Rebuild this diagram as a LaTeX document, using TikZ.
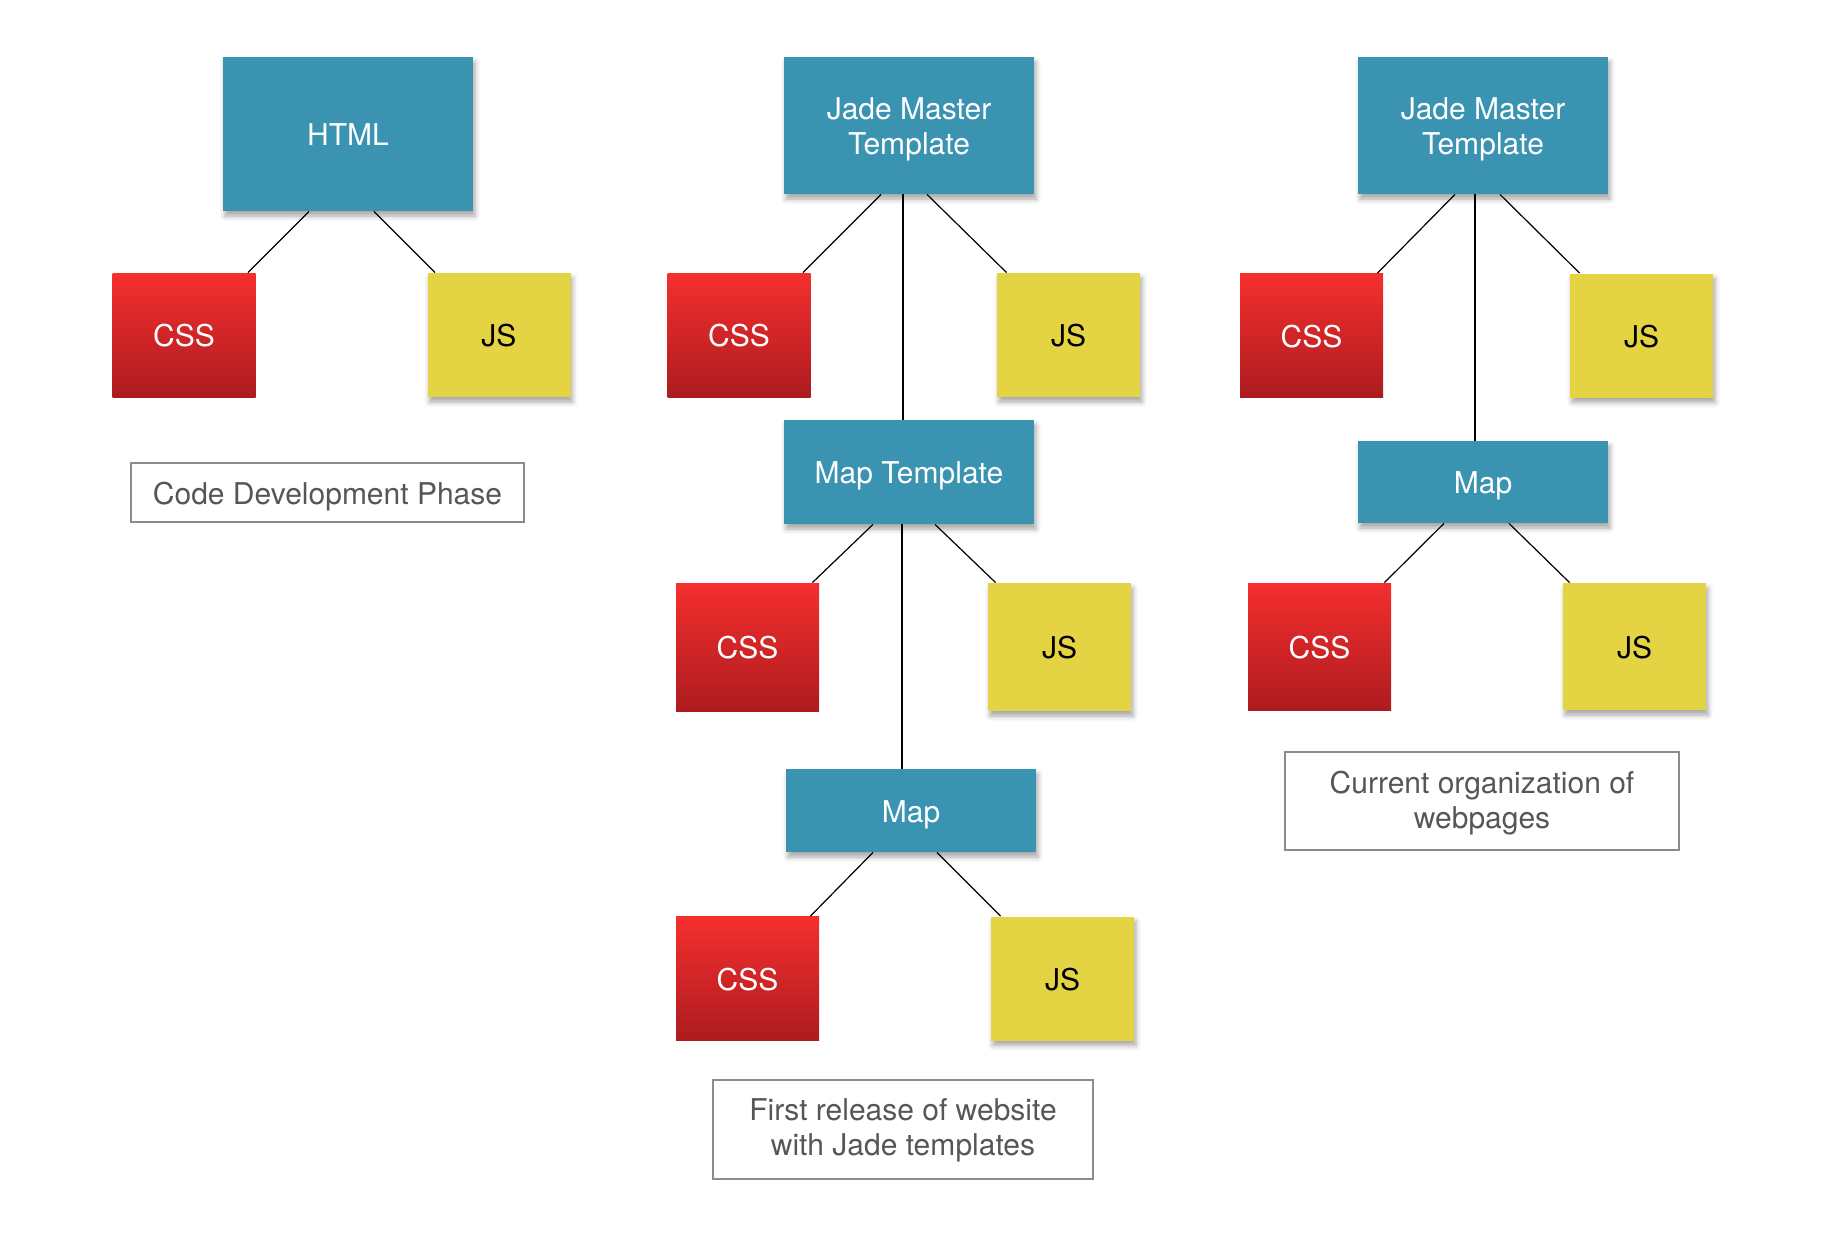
\documentclass[tikz,border=0pt]{standalone}
\usepackage{fontspec}
\setmainfont{TeX Gyre Heros}
\usepackage{tikz}
\usetikzlibrary{positioning,calc,shadows.blur}
\definecolor{tealbox}{HTML}{3A93B1}
\definecolor{cssTop}{HTML}{F52F2E}
\definecolor{cssBot}{HTML}{AD1B1F}
\definecolor{jsYellow}{HTML}{E4D342}
\definecolor{noteGray}{HTML}{8A8C90}
\definecolor{noteText}{HTML}{565656}

\begin{document}
\begin{tikzpicture}[
    x=0.5pt, y=-0.5pt,
    every node/.style={font=\fontsize{15}{17.5}\selectfont, inner sep=0pt, text height=11.5pt, text depth=0pt},
    tplbox/.style={fill=tealbox, text=white, minimum width=125pt, align=center,
      blur shadow={shadow xshift=1pt, shadow yshift=-2.5pt, shadow blur radius=2.5pt, shadow opacity=35}},
    cssbox/.style={top color=cssTop, bottom color=cssBot, text=white, minimum width=71.5pt, minimum height=62pt},
    jsbox/.style={fill=jsYellow, text=black, minimum width=71.5pt, minimum height=62pt,
      blur shadow={shadow xshift=1pt, shadow yshift=-2.5pt, shadow blur radius=2.5pt, shadow opacity=35}},
    note/.style={draw=noteGray, line width=1.2pt, text=noteText, align=center},
    link/.style={line width=0.6pt}
  ]
    \useasboundingbox (0,0) rectangle (1822,1238);
    % Code development phase
    \node[tplbox, minimum height=77pt] (html) at (348,134) {HTML};
    \node[cssbox] (cssA) at (184,335) {CSS};
    \node[jsbox] (jsA) at (499,335) {JS};
    \node[note, minimum width=196.5pt, minimum height=29.5pt] (phaseA) at (327.5,492.5) {Code Development Phase};
    % First release
    \node[tplbox, minimum height=68.5pt, text height=29pt] (jadeB) at (909,125.5) {Jade Master\\Template};
    \node[cssbox] (cssB) at (739,335) {CSS};
    \node[jsbox] (jsB) at (1068.5,335) {JS};
    \node[tplbox, minimum height=52pt] (maptplB) at (909,472) {Map Template};
    \node[cssbox, minimum height=64pt] (cssC) at (747.5,647) {CSS};
    \node[jsbox, minimum height=64pt] (jsC) at (1059.5,647) {JS};
    \node[tplbox, minimum height=41.5pt] (mapB) at (911,810.5) {Map};
    \node[cssbox] (cssD) at (747.5,978.5) {CSS};
    \node[jsbox] (jsD) at (1062.5,978.5) {JS};
    \node[note, minimum width=190pt, minimum height=49.5pt, text height=26.2pt] (phaseB) at (903,1129.5) {First release of website\\with Jade templates};
    % Current organization
    \node[tplbox, minimum height=68.5pt, text height=29pt] (jadeC) at (1483,125.5) {Jade Master\\Template};
    \node[cssbox] (cssE) at (1311.5,335.5) {CSS};
    \node[jsbox] (jsE) at (1641.5,335.5) {JS};
    \node[tplbox, minimum height=41pt] (mapC) at (1483,482) {Map};
    \node[cssbox, minimum height=63.5pt] (cssF) at (1319.5,646.5) {CSS};
    \node[jsbox, minimum height=63.5pt] (jsF) at (1634.5,646.5) {JS};
    \node[note, minimum width=197pt, minimum height=49pt, text height=27pt] (phaseC) at (1482,801) {Current organization of\\webpages};
    % Links
    \draw[link] ([xshift=-19.5pt]html.south) -- ([xshift=-4pt]cssA.north east);
    \draw[link] ([xshift=13pt]html.south) -- ([xshift=4pt]jsA.north west);
    \draw[link] ([xshift=-14pt]jadeB.south) -- ([xshift=-4pt]cssB.north east);
    \draw[link] ([xshift=9pt]jadeB.south) -- ([xshift=5pt]jsB.north west);
    \draw[link] ([xshift=-3pt]jadeB.south) -- ([xshift=-3pt]maptplB.north);
    \draw[link] ([xshift=-18pt]maptplB.south) -- ([xshift=-3.5pt]cssC.north east);
    \draw[link] ([xshift=13pt]maptplB.south) -- ([xshift=4pt]jsC.north west);
    \draw[link] ([xshift=-3.5pt]maptplB.south) -- ([xshift=-4.5pt]mapB.north);
    \draw[link] ([xshift=-19pt]mapB.south) -- ([xshift=-4.5pt]cssD.north east);
    \draw[link] ([xshift=13pt]mapB.south) -- ([xshift=5pt]jsD.north west);
    \draw[link] ([xshift=-14pt]jadeC.south) -- ([xshift=-3pt]cssE.north east);
    \draw[link] ([xshift=8.5pt]jadeC.south) -- ([xshift=5pt]jsE.north west);
    \draw[link] ([xshift=-4pt]jadeC.south) -- ([xshift=-4pt]mapC.north);
    \draw[link] ([xshift=-19.5pt]mapC.south) -- ([xshift=-3.5pt]cssF.north east);
    \draw[link] ([xshift=13pt]mapC.south) -- ([xshift=3.5pt]jsF.north west);
\end{tikzpicture}
\end{document}
